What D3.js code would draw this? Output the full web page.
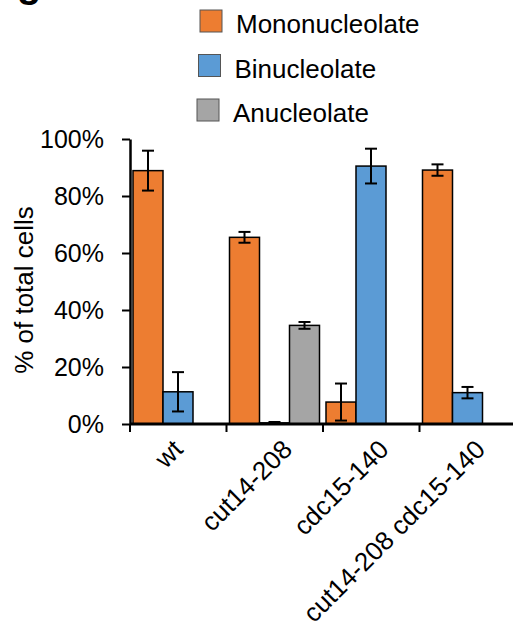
<!DOCTYPE html>
<html>
<head>
<meta charset="utf-8">
<script src="https://cdn.jsdelivr.net/npm/d3@7"></script>
<style>
  body { margin: 0; background: #fff; }
  text { font-family: "Liberation Sans", Arial, sans-serif; fill: #000; }
</style>
</head>
<body>
<div class="bar-chart"></div>
<script>
'use strict'

// Data.
const strains = ['wt', 'cut14-208', 'cdc15-140', 'cut14-208 cdc15-140'];
const series = ['Mononucleolate', 'Binucleolate', 'Anucleolate'];
const colors = ['#ED7D31', '#5B9BD5', '#A5A5A5'];
const mono = [88.9, 65.5, 7.7, 89.1];
const monoErr = [7.0, 1.9, 6.5, 2.0];
const bi = [11.3, 0.4, 90.5, 11.0];
const biErr = [6.9, 0.3, 6.1, 2.0];
const anu = [null, 34.6, null, null];
const anuErr = [null, 1.2, null, null];
const yTicks = [0, 20, 40, 60, 80, 100];

const values = [mono, bi, anu];
const errs = [monoErr, biErr, anuErr];

// Flatten to one record per bar.
let data = [];
strains.forEach((s, i) => {
    series.forEach((k, j) => {
        if (values[j][i] !== null) {
            data.push({strain: s, series: k, value: values[j][i], err: errs[j][i], color: colors[j]});
        }
    });
});

let width = 513,
    height = 629,
    margin = {top: 139, left: 130, bottom: 205};

let svg = d3.select('.bar-chart')
    .append('svg')
        .attr('width', width)
        .attr('height', height);

// Scales.
let x0 = d3.scaleBand()
    .domain(strains)
    .range([margin.left, margin.left + 4 * 96.5]);

let x1 = d3.scaleBand()
    .domain(series)
    .range([3, 93]);

let y = d3.scaleLinear()
    .domain([0, 100])
    .range([height - margin.bottom, margin.top]);

// Bars.
svg.append('g')
    .selectAll('rect')
    .data(data)
    .join('rect')
        .attr('x', d => x0(d.strain) + x1(d.series))
        .attr('y', d => y(d.value))
        .attr('width', x1.bandwidth())
        .attr('height', d => y(0) - y(d.value))
        .attr('fill', d => d.color)
        .attr('stroke', '#000')
        .attr('stroke-width', 1.5);

// Error bars.
let eb = svg.append('g')
    .attr('stroke', '#000')
    .attr('stroke-width', 2);

let cx = d => x0(d.strain) + x1(d.series) + x1.bandwidth() / 2;

eb.selectAll('line.stem')
    .data(data)
    .join('line')
        .attr('class', 'stem')
        .attr('x1', cx)
        .attr('x2', cx)
        .attr('y1', d => y(d.value + d.err))
        .attr('y2', d => y(Math.max(0, d.value - d.err)));

eb.selectAll('line.capTop')
    .data(data)
    .join('line')
        .attr('class', 'capTop')
        .attr('x1', d => cx(d) - 6)
        .attr('x2', d => cx(d) + 6)
        .attr('y1', d => y(d.value + d.err))
        .attr('y2', d => y(d.value + d.err));

eb.selectAll('line.capBot')
    .data(data)
    .join('line')
        .attr('class', 'capBot')
        .attr('x1', d => cx(d) - 6)
        .attr('x2', d => cx(d) + 6)
        .attr('y1', d => y(Math.max(0, d.value - d.err)))
        .attr('y2', d => y(Math.max(0, d.value - d.err)));

// Y axis.
svg.append('g')
    .attr('transform', `translate(${margin.left}, 0)`)
    .call(d3.axisLeft(y).tickValues(yTicks).tickFormat(d => d + '%').tickSize(8).tickSizeOuter(0))
    .call(g => g.select('.domain').attr('stroke-width', 2.5))
    .call(g => g.selectAll('.tick line').attr('stroke-width', 2))
    .call(g => g.selectAll('.tick text')
        .attr('x', -26)
        .attr('dy', '0.35em')
        .style('font-size', '25px')
        .style('font-family', '"Liberation Sans", Arial, sans-serif'));

// X axis: ticks at the category boundaries.
let xEdges = strains.map(s => x0(s));

svg.append('line')
    .attr('x1', margin.left)
    .attr('x2', width)
    .attr('y1', y(0))
    .attr('y2', y(0))
    .attr('stroke', '#000')
    .attr('stroke-width', 3);

svg.append('g')
    .selectAll('line')
    .data(xEdges)
    .join('line')
        .attr('x1', d => d)
        .attr('x2', d => d)
        .attr('y1', y(0))
        .attr('y2', y(0) + 8)
        .attr('stroke', '#000')
        .attr('stroke-width', 2);

svg.append('g')
    .selectAll('text')
    .data(strains)
    .join('text')
        .attr('transform', d => `translate(${x0(d) + x0.bandwidth() / 2 + (d === 'wt' ? 6 : 19)}, ${y(0) + 27}) rotate(-45)`)
        .attr('text-anchor', 'end')
        .style('font-size', '26px')
        .text(d => d);

// Y label.
svg.append('text')
    .attr('transform', `translate(33, 290) rotate(-90)`)
    .attr('text-anchor', 'middle')
    .style('font-size', '26px')
    .text('% of total cells');

// Legend.
let legend = svg.append('g')
    .selectAll('g')
    .data(series)
    .join('g')
        .attr('transform', (d, i) => `translate(${200 - i * 1.5}, ${10 + i * 44.5})`);

legend.append('rect')
    .attr('width', 22)
    .attr('height', 22)
    .attr('fill', (d, i) => colors[i])
    .attr('stroke', '#555')
    .attr('stroke-width', 1);

legend.append('text')
    .attr('x', 36)
    .attr('y', 23)
    .style('font-size', '26px')
    .text(d => d);

// Panel letter, cut off at the top.
svg.append('text')
    .attr('x', 17)
    .attr('y', -3)
    .style('font-size', '40px')
    .style('font-weight', 'bold')
    .text('g');
</script>
</body>
</html>
